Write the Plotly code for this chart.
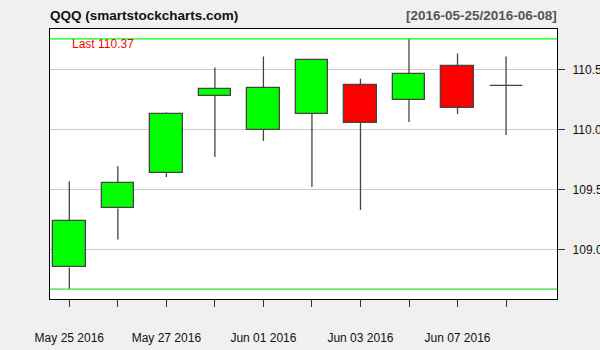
import plotly.graph_objects as go

dates = ["2016-05-25", "2016-05-26", "2016-05-27", "2016-05-31", "2016-06-01",
         "2016-06-02", "2016-06-03", "2016-06-06", "2016-06-07", "2016-06-08"]
tick_labels = ["May 25 2016", "", "May 27 2016", "", "Jun 01 2016",
               "", "Jun 03 2016", "", "Jun 07 2016", ""]
opens = [108.85, 109.342, 109.642, 110.28, 110.00, 110.133, 110.375, 110.25, 110.533, 110.37]
highs = [109.569, 109.694, 110.144, 110.519, 110.611, 110.592, 110.425, 110.758, 110.636, 110.611]
lows = [108.669, 109.083, 109.605, 109.772, 109.905, 109.522, 109.33, 110.063, 110.13, 109.955]
closes = [109.236, 109.558, 110.133, 110.342, 110.35, 110.583, 110.058, 110.467, 110.183, 110.37]
y_ticks = [109.0, 109.5, 110.0, 110.5]

FONT = "Liberation Sans, Arial, sans-serif"
BODY_W = 0.67
EDGE = "#444444"

idx = list(range(len(dates)))

fig = go.Figure()

# wicks (upper and lower segments, so they never cross the bodies)
wx, wy = [], []
for i in idx:
    top = max(opens[i], closes[i])
    bot = min(opens[i], closes[i])
    wx += [i, i, None, i, i, None]
    wy += [highs[i], top, None, bot, lows[i], None]
    if opens[i] == closes[i]:
        wx += [i - BODY_W / 2, i + BODY_W / 2, None]
        wy += [opens[i], opens[i], None]
fig.add_trace(go.Scatter(x=wx, y=wy, mode="lines",
                         line=dict(color=EDGE, width=1.3),
                         hoverinfo="skip", showlegend=False))

# bodies
bx, bbase, bh, bcol = [], [], [], []
for i in idx:
    if opens[i] == closes[i]:
        continue
    bx.append(i)
    bbase.append(min(opens[i], closes[i]))
    bh.append(abs(closes[i] - opens[i]))
    bcol.append("#00ff00" if closes[i] > opens[i] else "#ff0000")
fig.add_trace(go.Bar(x=bx, y=bh, base=bbase, width=BODY_W,
                     marker=dict(color=bcol, line=dict(color=EDGE, width=1.3)),
                     showlegend=False, hoverinfo="skip"))

# range lines at highest high / lowest low
fig.add_hline(y=max(highs), line=dict(color="#00ff00", width=1.3), layer="above")
fig.add_hline(y=min(lows), line=dict(color="#33dd33", width=1.3), layer="above")

fig.add_annotation(text="<b>QQQ (smartstockcharts.com)</b>", xref="paper", yref="paper",
                   x=0, y=1, xanchor="left", yanchor="middle", yshift=13.5, xshift=-2,
                   showarrow=False, font=dict(family=FONT, size=13.5, color="#111111"))
fig.add_annotation(text="<b>[%s/%s]</b>" % (dates[0], dates[-1]), xref="paper", yref="paper",
                   x=1, y=1, xanchor="right", yanchor="middle", yshift=13.5, xshift=2,
                   showarrow=False, font=dict(family=FONT, size=13.5, color="#555555"))
fig.add_annotation(text="Last %.2f" % closes[-1], xref="paper", yref="paper",
                   x=22 / 506.7, y=1, xanchor="left", yanchor="middle", yshift=-15, xshift=-2,
                   showarrow=False, font=dict(family=FONT, size=12, color="#ff0000"))

fig.update_layout(
    width=600, height=350,
    margin=dict(l=50, r=43.3, t=28.5, b=51, pad=0),
    paper_bgcolor="#f0f0f0", plot_bgcolor="#ffffff",
    font=dict(family=FONT, size=12, color="#111111"),
    bargap=0, showlegend=False,
)
fig.update_xaxes(
    range=[-0.398, 10.05], tickmode="array", tickvals=idx, ticktext=tick_labels,
    ticks="outside", ticklen=7, tickcolor="#333333", tickwidth=1.3,
    showgrid=False, zeroline=False, automargin=False,
    showline=True, mirror=True, linecolor="#000000", linewidth=1.3,
    tickfont=dict(family=FONT, size=12, color="#111111"), ticklabelstandoff=20,
)
fig.update_yaxes(
    range=[108.586, 110.84], side="right", tickmode="array", tickvals=y_ticks,
    tickformat=".2f", ticks="outside", ticklen=7, tickcolor="#333333", tickwidth=1.3,
    showgrid=True, gridcolor="#cccccc", gridwidth=1, zeroline=False, automargin=False,
    showline=True, mirror=True, linecolor="#000000", linewidth=1.3,
    tickfont=dict(family=FONT, size=12, color="#111111"), ticklabelstandoff=5,
)

fig.write_html("out.html")
